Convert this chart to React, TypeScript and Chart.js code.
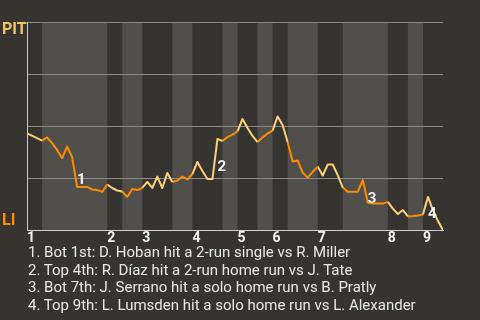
import React, { useEffect, useRef } from "react";
import { Chart, registerables } from "chart.js";

Chart.register(...registerables);

// Win probability (% toward PIT at top, LI at bottom), one value per play
const WIN_PROB = [
  46.4, 45.4, 44.2, 43.0, 44.5, 41.8, 38.5, 34.6, 40.1, 35.1,
  20.7, 20.7, 20.7, 19.5, 19.2, 18.3, 21.9, 20.2, 19.0, 18.5,
  15.9, 19.7, 19.2, 20.2, 23.1, 20.2, 25.7, 20.2, 27.4, 23.1,
  23.8, 25.7, 24.3, 26.9, 32.7, 28.4, 24.5, 24.5, 43.8, 42.8,
  44.7, 45.9, 47.4, 53.4, 49.0, 45.2, 42.3, 44.5, 46.4, 47.8,
  54.6, 50.5, 42.3, 32.9, 33.4, 27.6, 25.2, 27.9, 30.5, 26.2,
  31.5, 31.5, 26.4, 20.4, 18.4, 18.4, 18.4, 24.0, 13.2, 12.7,
  12.7, 12.7, 13.5, 10.3, 7.7, 9.6, 6.5, 6.7, 7.0, 7.5,
  15.9, 9.6, 4.3, 0,
];

// Play index where each half-inning starts (top 1, bot 1, top 2, ...)
const HALF_STARTS = [0, 3, 16, 19, 23, 29, 33, 39, 42, 46, 49, 52, 58, 63, 72, 76, 79];
const TOTAL_PLAYS = 83;
const INNING_LABELS = ["1", "2", "3", "4", "5", "6", "7", "8", "9"];
const INNING_STARTS = HALF_STARTS.filter((_, i) => i % 2 === 0);

const SCORING_PLAYS = [10, 38, 68, 80];
const SCORING_LABELS = ["1", "2", "3", "4"];
const EVENTS = [
  "1. Bot 1st: D. Hoban hit a 2-run single vs R. Miller",
  "2. Top 4th: R. Díaz hit a 2-run home run vs J. Tate",
  "3. Bot 7th: J. Serrano hit a solo home run vs B. Pratly",
  "4. Top 9th: L. Lumsden hit a solo home run vs L. Alexander",
];
const TEAM_TOP = "PIT";
const TEAM_BOTTOM = "LI";

const BG = "#363430";
const BAND = "#504f4c";
const LIGHT = "#fdd07a";
const ORANGE = "#ff8c00";
const PIT_COLOR = "#f2c266";
const LI_COLOR = "#ff8c00";

const gamePlugin = {
  id: "gamePlugin",
  beforeDraw(chart: any) {
    const { ctx, chartArea, scales } = chart;
    const x = scales.x;
    ctx.save();
    ctx.fillStyle = BAND;
    for (let i = 1; i < HALF_STARTS.length; i += 2) {
      const x0 = x.getPixelForValue(HALF_STARTS[i]);
      const x1 = x.getPixelForValue(i + 1 < HALF_STARTS.length ? HALF_STARTS[i + 1] : TOTAL_PLAYS);
      ctx.fillRect(x0, chartArea.top, x1 - x0, chartArea.bottom - chartArea.top);
    }
    ctx.restore();
  },
  afterDatasetsDraw(chart: any) {
    const { ctx, chartArea, scales } = chart;
    const x = scales.x;
    const y = scales.y;
    ctx.save();
    ctx.font = "bold 15px Roboto";
    ctx.fillStyle = "#f2f2f2";
    ctx.textAlign = "left";
    ctx.textBaseline = "alphabetic";
    SCORING_PLAYS.forEach((p, i) => {
      const px = x.getPixelForValue(p);
      const mid = (y.getPixelForValue(WIN_PROB[p - 1]) + y.getPixelForValue(WIN_PROB[p])) / 2;
      ctx.fillText(SCORING_LABELS[i], px, mid + 12);
    });
    ctx.font = "bold 16px Roboto";
    ctx.fillStyle = PIT_COLOR;
    ctx.fillText(TEAM_TOP, 2, chartArea.top + 12);
    ctx.fillStyle = LI_COLOR;
    ctx.fillText(TEAM_BOTTOM, 2, chartArea.bottom - 5);
    ctx.restore();
  },
};

function buildDatasets() {
  return HALF_STARTS.map((start, i) => {
    const end = i + 1 < HALF_STARTS.length ? HALF_STARTS[i + 1] : TOTAL_PLAYS;
    const pts: { x: number; y: number }[] = [];
    for (let k = start; k <= end; k++) pts.push({ x: k, y: WIN_PROB[k] });
    return {
      data: pts,
      borderColor: i % 2 === 0 ? LIGHT : ORANGE,
      borderWidth: 2,
      pointRadius: 0,
      tension: 0,
      borderJoinStyle: "round" as const,
    };
  });
}

export default function App() {
  const ref = useRef<HTMLCanvasElement | null>(null);
  useEffect(() => {
    if (!ref.current) return;
    const chart = new Chart(ref.current, {
      type: "line",
      data: { datasets: buildDatasets() },
      options: {
        animation: false,
        responsive: false,
        maintainAspectRatio: false,
        layout: { padding: { left: 27, right: 37, top: 22, bottom: 0 } },
        plugins: { legend: { display: false }, tooltip: { enabled: false } },
        scales: {
          x: {
            type: "linear",
            min: 0,
            max: TOTAL_PLAYS,
            grid: { display: true, drawOnChartArea: false, drawTicks: false },
            border: { display: true, color: "#d0d0d0", width: 1 },
            afterBuildTicks: (s: any) => {
              s.ticks = INNING_STARTS.map((v) => ({ value: v }));
            },
            afterFit: (s: any) => {
              s.height = 20;
            },
            ticks: {
              align: "start",
              padding: 0,
              autoSkip: false,
              maxRotation: 0,
              color: "#f2f2f2",
              font: { family: "Roboto", size: 14, weight: "bold" },
              callback: (_v: any, i: number) => INNING_LABELS[i],
            },
          },
          y: {
            min: 0,
            max: 100,
            ticks: { display: false, stepSize: 25 },
            grid: { color: "#8a8a8a", drawTicks: false, lineWidth: 1 },
            border: { display: true, color: "#c8c8c8", width: 1 },
            afterFit: (s: any) => {
              s.width = 0;
            },
          },
        },
      } as any,
      plugins: [gamePlugin],
    });
    return () => chart.destroy();
  }, []);

  return (
    <div
      style={{
        position: "fixed",
        left: 0,
        top: 0,
        width: 480,
        height: 320,
        background: BG,
        overflow: "hidden",
      }}
    >
      <canvas ref={ref} width={480} height={250} style={{ position: "absolute", left: 0, top: 0, width: 480, height: 250 }} />
      <div
        style={{
          position: "absolute",
          left: 28,
          top: 244,
          fontFamily: "Roboto",
          fontSize: 15,
          lineHeight: "17.7px",
          color: "#e8e8e8",
          whiteSpace: "nowrap",
        }}
      >
        {EVENTS.map((e, i) => (
          <div key={i}>{e}</div>
        ))}
      </div>
    </div>
  );
}
